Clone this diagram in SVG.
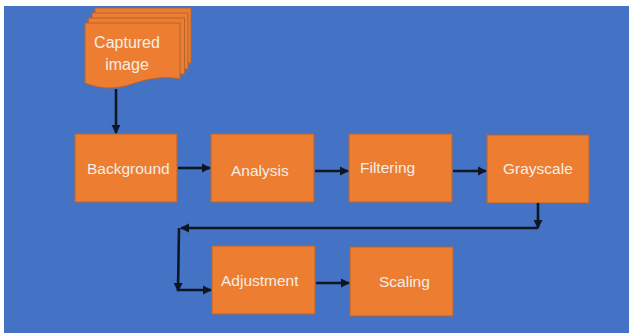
<svg xmlns="http://www.w3.org/2000/svg" width="629" height="333" viewBox="0 0 629 333">
<style>
.box{fill:#ED7D31;stroke:#B8652C;stroke-width:1}
.lbl{font-family:"Liberation Sans",Arial,sans-serif;font-size:15.5px;fill:#F4EEE6}
.con{stroke:#0E1626;stroke-width:2.6;fill:none}
</style>
<defs>
<marker id="ah" viewBox="0 0 10 10" refX="9" refY="5" markerWidth="3.6" markerHeight="3.6" orient="auto" markerUnits="strokeWidth">
<path d="M0,0 L10,5 L0,10 Z" fill="#0E1626"/>
</marker>
</defs>
<rect x="0" y="0" width="629" height="333" fill="#FFFFFF"/>
<rect x="4" y="6" width="625" height="327" fill="#4472C4"/>

<g id="captured-image">
<rect class="box" x="95" y="8" width="96" height="55"/>
<rect class="box" x="92" y="13" width="96" height="56"/>
<rect class="box" x="88.5" y="18" width="96" height="56"/>
<path class="box" d="M85,23 H180 V79 C165,76 150,78 132,84 C115,90 100,89 85,83 Z"/>
<text class="lbl" x="127" y="48" text-anchor="middle" style="font-size:16px">Captured</text>
<text class="lbl" x="127" y="70" text-anchor="middle" style="font-size:16px">image</text>
</g>

<g id="background">
<rect class="box" x="75" y="134" width="102" height="68"/>
<text class="lbl" x="87" y="174">Background</text>
</g>
<g id="analysis">
<rect class="box" x="211" y="134" width="103" height="68"/>
<text class="lbl" x="231" y="176">Analysis</text>
</g>
<g id="filtering">
<rect class="box" x="349" y="134" width="103" height="68"/>
<text class="lbl" x="360" y="173">Filtering</text>
</g>
<g id="grayscale">
<rect class="box" x="487" y="135" width="102" height="68"/>
<text class="lbl" x="503" y="174">Grayscale</text>
</g>
<g id="adjustment">
<rect class="box" x="212" y="246" width="103" height="68"/>
<text class="lbl" x="221" y="286">Adjustment</text>
</g>
<g id="scaling">
<rect class="box" x="350" y="247" width="103" height="69"/>
<text class="lbl" x="379" y="287">Scaling</text>
</g>

<g id="connectors">
<line class="con" x1="116" y1="89" x2="116" y2="133" marker-end="url(#ah)"/>
<line class="con" x1="178" y1="168" x2="210" y2="168" marker-end="url(#ah)"/>
<line class="con" x1="315" y1="171" x2="348" y2="171" marker-end="url(#ah)"/>
<line class="con" x1="453" y1="171" x2="486" y2="171" marker-end="url(#ah)"/>
<line class="con" x1="538" y1="203" x2="538" y2="228" marker-end="url(#ah)"/>
<line class="con" x1="538" y1="228" x2="181" y2="228" marker-end="url(#ah)"/>
<line class="con" x1="179" y1="228" x2="178" y2="291" marker-end="url(#ah)"/>
<line class="con" x1="178" y1="290" x2="211" y2="290" marker-end="url(#ah)"/>
<line class="con" x1="316" y1="283" x2="349" y2="283" marker-end="url(#ah)"/>
</g>
</svg>
